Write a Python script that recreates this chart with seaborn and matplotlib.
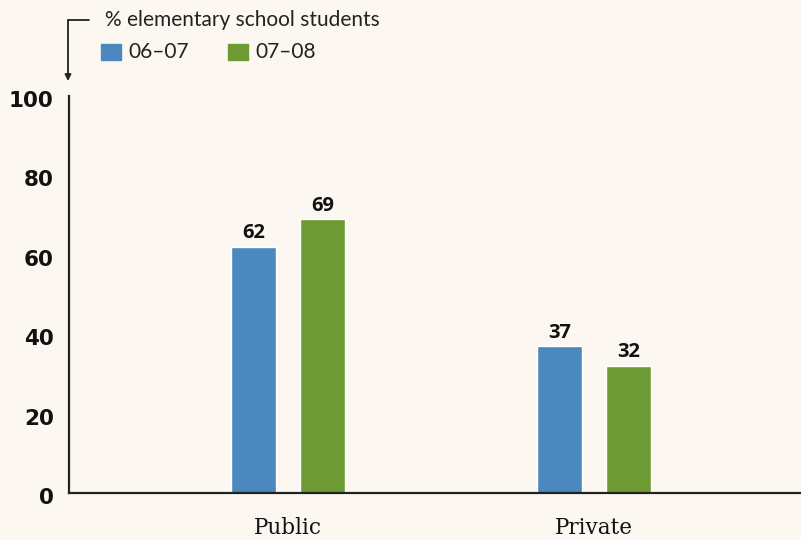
import matplotlib
matplotlib.use("Agg")
import matplotlib.pyplot as plt
import matplotlib.transforms as mtransforms
import seaborn as sns
import pandas as pd
from matplotlib.patches import FancyArrowPatch

# Data
sectors = ["Public", "Private"]
years = ["06–07", "07–08"]
share_0607 = [62, 37]
share_0708 = [69, 32]
y_ticks = [0, 20, 40, 60, 80, 100]

df = pd.DataFrame({
    "sector": sectors * 2,
    "year": [years[0]] * 2 + [years[1]] * 2,
    "share": share_0607 + share_0708,
})

bg = "#fcf8f1"
palette = {years[0]: "#4a88be", years[1]: "#6e9a34"}

sns.set_theme(style="white")
plt.rcParams["font.family"] = ["DejaVu Sans"]

fig = plt.figure(figsize=(8.01, 5.40), dpi=100, facecolor=bg)
ax = fig.add_axes([69 / 801, 47 / 540, 1 - 69 / 801, (493 - 96) / 540])
ax.set_facecolor(bg)

sns.barplot(data=df, x="sector", y="share", hue="year", order=sectors,
            hue_order=years, palette=palette, width=0.451, gap=0.348,
            saturation=1, ax=ax, legend=False)

for cont in ax.containers:
    ax.bar_label(cont, fmt="%d", padding=2.5, fontsize=14.5, fontweight="bold",
                 family="Open Sans", color="#111111")

ax.set_xlim(-0.716, 1.676)
ax.set_ylim(0, 100)
ax.set_yticks(y_ticks)
ax.set_yticklabels([str(t) for t in y_ticks], fontsize=15.5, fontweight="heavy",
                   color="#111111")
ax.tick_params(axis="y", length=0, pad=11)
ax.tick_params(axis="x", length=0, pad=17)
shift_down = mtransforms.ScaledTranslation(0, -3 / 100, fig.dpi_scale_trans)
for lbl in ax.get_yticklabels():
    lbl.set_transform(lbl.get_transform() + shift_down)
for lbl in ax.get_xticklabels():
    lbl.set_family("DejaVu Serif")
    lbl.set_fontsize(15.5)
    lbl.set_color("#111111")
ax.set_xlabel("")
ax.set_ylabel("")

for s in ["top", "right"]:
    ax.spines[s].set_visible(False)
for s in ["left", "bottom"]:
    ax.spines[s].set_color("#222222")
    ax.spines[s].set_linewidth(1.6)

# Legend block with unit note
fig.text(105 / 801, 1 - 20 / 540, "% elementary school students", fontsize=15,
         family="Lato", color="#222222", va="center", ha="left")
for x0, yr in zip([101, 228], years):
    fig.add_artist(plt.Rectangle((x0 / 801, 1 - 60 / 540), 20 / 801, 16 / 540,
                                 transform=fig.transFigure, color=palette[yr]))
    fig.text((x0 + 27) / 801, 1 - 52 / 540, yr, fontsize=15, family="Lato",
             color="#222222", va="center", ha="left")

fig.add_artist(plt.Line2D([68 / 801, 89 / 801], [1 - 20 / 540, 1 - 20 / 540],
                          transform=fig.transFigure, color="#222222", lw=1.3))
fig.add_artist(FancyArrowPatch((68 / 801, 1 - 20 / 540), (68 / 801, 1 - 81 / 540),
                               transform=fig.transFigure, arrowstyle="-|>",
                               mutation_scale=9, color="#222222", lw=1.3,
                               shrinkA=0, shrinkB=0))

fig.savefig("out.png", dpi=100, facecolor=bg)
